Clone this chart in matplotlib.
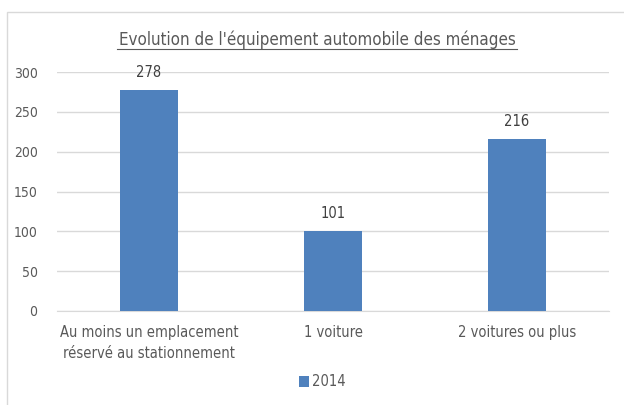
import numpy as np
import matplotlib.pyplot as plt
from matplotlib.patches import Rectangle

plt.rcParams['font.family'] = ['DejaVu Sans']
plt.rcParams['font.stretch'] = 'condensed'

categories = ["Au moins un emplacement\nréservé au stationnement", "1 voiture", "2 voitures ou plus"]
values_2014 = [278, 101, 216]
series_name = "2014"
title = "Evolution de l'équipement automobile des ménages"

bar_color = '#4f81bd'
text_color = '#595959'

fig = plt.figure(figsize=(6.24, 4.05), dpi=100)
W, H = 624, 405

# outer chart border (cut off at right and bottom)
fig.patches.append(Rectangle((7 / W, -0.1), 1.2, 1 - 12 / H + 0.1,
                             transform=fig.transFigure, fill=False,
                             edgecolor='#d9d9d9', linewidth=1))

ax = fig.add_axes([57 / W, 1 - 311 / H, 552 / W, 239 / H])
x = np.arange(len(categories))
bars = ax.bar(x, values_2014, width=0.315, color=bar_color, label=series_name, zorder=3)
ax.set_xlim(-0.5, len(categories) - 0.5)
ax.set_ylim(0, 300)
ax.set_yticks(range(0, 301, 50))
ax.yaxis.grid(True, color='#d9d9d9', linewidth=1, zorder=0)
ax.set_xticks(x)
ax.set_xticklabels(categories, fontsize=10.5, color=text_color, linespacing=1.5)
ax.tick_params(axis='y', labelsize=10, colors=text_color, length=0, pad=14)
ax.tick_params(axis='x', length=0, pad=10)
for s in ['top', 'right', 'left']:
    ax.spines[s].set_visible(False)
ax.spines['bottom'].set_color('#d9d9d9')

for b, v in zip(bars, values_2014):
    ax.text(b.get_x() + b.get_width() / 2, v + 12, str(v), ha='center', va='bottom',
            fontsize=10.5, color='#404040')

fig.text(317 / W, 1 - 40 / H, title, ha='center', va='center', fontsize=12.2,
         color=text_color)
# underline for title
fig.lines.append(plt.Line2D([117 / W, 517 / W], [1 - 49 / H, 1 - 49 / H],
                            transform=fig.transFigure, color=text_color, linewidth=0.8))

fig.legend(handles=[bars], labels=[series_name], loc='center', bbox_to_anchor=(322 / W, 1 - 382 / H),
           frameon=False, fontsize=10.5, handlelength=0.7, handleheight=0.7, handletextpad=0.2,
           labelcolor=text_color)

fig.savefig('out.png', dpi=100)
